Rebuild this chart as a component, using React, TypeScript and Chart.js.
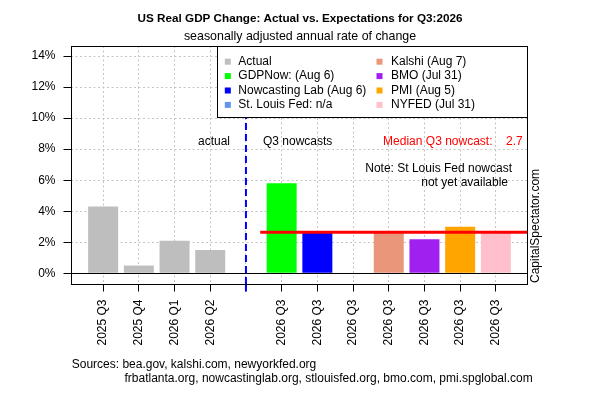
import { useEffect, useRef } from "react"
import { Chart, registerables } from "chart.js"

// Register Chart.js components
Chart.register(...registerables)

const FONT = "'Liberation Sans', Arial, sans-serif"

// quarter labels under each slot (slot 4 is the actual / nowcast divider)
const xLabels = [
  "2025 Q3", "2025 Q4", "2026 Q1", "2026 Q2", "",
  "2026 Q3", "2026 Q3", "2026 Q3", "2026 Q3", "2026 Q3", "2026 Q3", "2026 Q3",
]
// real GDP change, % saar (null = no bar)
const gdpValues = [4.3, 0.5, 2.1, 1.5, null, 5.8, 2.6, null, 2.7, 2.2, 3.0, 2.6]
const barColors = [
  "#bebebe", "#bebebe", "#bebebe", "#bebebe", "#ffffff",
  "#00ff00", "#0000ff", "#6495ed", "#e9967a", "#a020f0", "#ffa500", "#ffc0cb",
]
const legendLabels = [
  "Actual", "GDPNow: (Aug 6)", "Nowcasting Lab (Aug 6)", "St. Louis Fed: n/a",
  "Kalshi (Aug 7)", "BMO (Jul 31)", "PMI (Aug 5)", "NYFED (Jul 31)",
]
const legendColors = [
  "#bebebe", "#00ff00", "#0000ff", "#6495ed",
  "#e9967a", "#a020f0", "#ffa500", "#ffc0cb",
]
const yTicks = [0, 2, 4, 6, 8, 10, 12, 14]
const dividerSlot = 4
const medianValue = 2.65
const medianText = "2.7"
const medianFrom = 4.4

const X_MIN = -0.9
const X_MAX = 11.9
const Y_MIN = -0.69
const Y_MAX = 14.65

const decorPlugin = {
  id: "decor",
  afterDatasetsDraw(chart: Chart) {
    const { ctx, chartArea: ca, scales } = chart
    const x = scales.x
    const y = scales.y
    ctx.save()

    // zero line
    const y0 = Math.round(y.getPixelForValue(0)) + 0.5
    ctx.strokeStyle = "#000"
    ctx.lineWidth = 1
    ctx.beginPath()
    ctx.moveTo(ca.left, y0)
    ctx.lineTo(ca.right, y0)
    ctx.stroke()

    // divider between actual and nowcasts
    const xd = x.getPixelForValue(dividerSlot)
    ctx.strokeStyle = "#0000ff"
    ctx.lineWidth = 2
    ctx.setLineDash([7, 4])
    ctx.beginPath()
    ctx.moveTo(xd, ca.bottom)
    ctx.lineTo(xd, ca.top)
    ctx.stroke()
    ctx.setLineDash([])
    ctx.beginPath()
    ctx.moveTo(xd, ca.bottom)
    ctx.lineTo(xd, ca.bottom + 7.5)
    ctx.stroke()

    // legend box
    const lx = 217.5
    const ly = Math.floor(ca.top) + 0.5
    const lr = Math.floor(ca.right) - 0.5
    ctx.fillStyle = "#fff"
    ctx.fillRect(lx, ly, lr - lx, 71)
    ctx.strokeStyle = "#000"
    ctx.lineWidth = 1
    ctx.strokeRect(lx, ly, lr - lx, 71)
    ctx.font = `12px ${FONT}`
    ctx.textBaseline = "middle"
    ctx.textAlign = "left"
    legendLabels.forEach((label, i) => {
      const col = Math.floor(i / 4)
      const row = i % 4
      const sx = col === 0 ? 227.8 : 379.5
      const tx = col === 0 ? 238.3 : 391
      const ry = 61.7 + row * 14.4
      ctx.fillStyle = legendColors[i]
      ctx.fillRect(sx - 3, ry - 3, 6, 6)
      ctx.fillStyle = "#000"
      ctx.fillText(label, tx, ry)
    })

    // annotations
    ctx.fillStyle = "#000"
    ctx.textAlign = "right"
    ctx.fillText("actual", 230, 142)
    ctx.textAlign = "left"
    ctx.fillText("Q3 nowcasts", 263, 142)
    ctx.fillStyle = "#ff0000"
    ctx.textAlign = "right"
    ctx.fillText("Median Q3 nowcast:", 492.5, 142)
    ctx.fillText(medianText, 522.7, 142)
    ctx.fillStyle = "#000"
    ctx.fillText("Note: St Louis Fed nowcast", 512, 169)
    ctx.fillText("not yet available", 508, 183)

    ctx.restore()
  },
  afterDraw(chart: Chart) {
    const { ctx, chartArea: ca } = chart
    ctx.save()
    // plot frame
    const l = Math.floor(ca.left) + 0.5
    const t = Math.floor(ca.top) + 0.5
    const r = Math.floor(ca.right) - 0.5
    const b = Math.floor(ca.bottom) + 0.5
    ctx.strokeStyle = "#000"
    ctx.lineWidth = 1
    ctx.strokeRect(l, t, r - l, b - t)

    ctx.fillStyle = "#000"
    ctx.textBaseline = "middle"
    ctx.textAlign = "center"
    ctx.font = `bold 11.7px ${FONT}`
    ctx.fillText("US Real GDP Change: Actual vs. Expectations for Q3:2026", 300, 19)
    ctx.font = `12.4px ${FONT}`
    ctx.fillText("seasonally adjusted annual rate of change", 300, 37)

    ctx.font = `12px ${FONT}`
    ctx.textAlign = "left"
    ctx.fillText("Sources: bea.gov, kalshi.com, newyorkfed.org", 71.7, 365)
    ctx.fillText(
      "frbatlanta.org, nowcastinglab.org, stlouisfed.org, bmo.com, pmi.spglobal.com",
      124.5,
      379
    )

    // side credit
    ctx.translate(536, 283)
    ctx.rotate(-Math.PI / 2)
    ctx.textAlign = "left"
    ctx.fillText("CapitalSpectator.com", 0, 0)
    ctx.restore()
  },
}

export default function App() {
  const chartRef = useRef<HTMLCanvasElement>(null)
  const chartInstance = useRef<Chart | null>(null)

  useEffect(() => {
    document.body.style.margin = "0"
    if (!chartRef.current) return
    if (chartInstance.current) chartInstance.current.destroy()
    const ctx = chartRef.current.getContext("2d")
    if (!ctx) return

    const gridColor = "#c4c4c4"

    chartInstance.current = new Chart(ctx, {
      type: "bar",
      data: {
        datasets: [
          {
            type: "line",
            data: [
              { x: medianFrom, y: medianValue },
              { x: X_MAX, y: medianValue },
            ],
            borderColor: "#ff0000",
            borderWidth: 3,
            pointRadius: 0,
            order: 0,
          },
          {
            type: "bar",
            data: gdpValues.map((v, i) => ({ x: i, y: v })),
            backgroundColor: barColors,
            borderWidth: 0,
            barPercentage: 0.84,
            categoryPercentage: 1,
            order: 1,
          },
        ],
      } as any,
      options: {
        responsive: true,
        maintainAspectRatio: false,
        animation: false,
        layout: { padding: { top: 46, right: 72, left: 0, bottom: 0 } },
        plugins: {
          legend: { display: false },
          tooltip: { enabled: false },
        },
        scales: {
          x: {
            type: "linear",
            min: X_MIN,
            max: X_MAX,
            offset: false,
            afterBuildTicks: (scale: any) => {
              scale.ticks = xLabels.map((_, i) => ({ value: i }))
            },
            afterFit: (scale: any) => {
              scale.height = 116
            },
            grid: {
              offset: false,
              color: gridColor,
              lineWidth: 1,
              tickLength: 7.5,
              tickColor: (c: any) => (c.tick && c.tick.value === dividerSlot ? "#0000ff" : "#000"),
            },
            border: { display: false, dash: [2, 2.5] },
            ticks: {
              autoSkip: false,
              minRotation: 90,
              maxRotation: 90,
              padding: 8,
              color: "#000",
              font: { family: FONT, size: 12 },
              callback: (v: any) => xLabels[v as number] ?? "",
            },
          },
          y: {
            type: "linear",
            min: Y_MIN,
            max: Y_MAX,
            afterBuildTicks: (scale: any) => {
              scale.ticks = yTicks.map((v) => ({ value: v }))
            },
            afterFit: (scale: any) => {
              scale.width = 71
            },
            grid: {
              color: gridColor,
              lineWidth: 1,
              tickLength: 7.5,
              tickColor: "#000",
            },
            border: { display: false, dash: [2, 2.5] },
            ticks: {
              padding: 8,
              color: "#000",
              font: { family: FONT, size: 12 },
              callback: (v: any) => `${v}%`,
            },
          },
        },
      } as any,
      plugins: [decorPlugin],
    })

    return () => {
      if (chartInstance.current) {
        chartInstance.current.destroy()
        chartInstance.current = null
      }
    }
  }, [])

  return (
    <div style={{ width: 600, height: 400, position: "relative" }}>
      <canvas ref={chartRef} />
    </div>
  )
}
